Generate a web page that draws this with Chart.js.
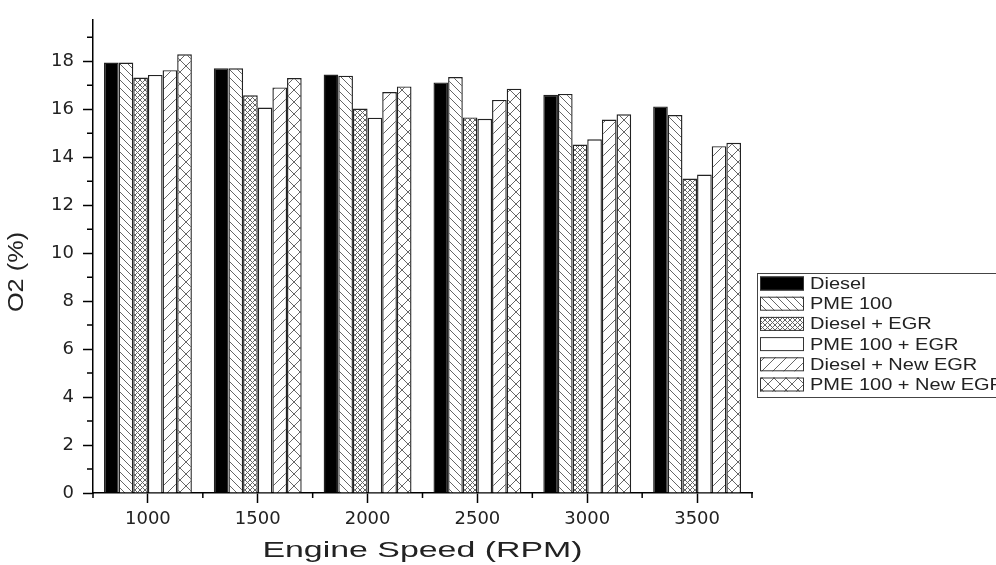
<!DOCTYPE html>
<html>
<head>
<meta charset="utf-8">
<script src="https://cdn.jsdelivr.net/npm/chart.js@4"></script>
<style>
  html, body { margin: 0; padding: 0; background: #fff; }
  #wrap { position: relative; width: 996px; height: 565px; }
</style>
</head>
<body>
<div id="wrap"><canvas id="chart"></canvas></div>
<script>
const speeds = ["1000", "1500", "2000", "2500", "3000", "3500"];
const diesel = [17.95, 17.71, 17.45, 17.12, 16.6, 16.12];
const pme100 = [17.95, 17.71, 17.4, 17.34, 16.64, 15.76];
const dieselEgr = [17.32, 16.58, 16.03, 15.66, 14.53, 13.11];
const pmeEgr = [17.43, 16.07, 15.65, 15.6, 14.75, 13.28];
const dieselNewEgr = [17.63, 16.91, 16.72, 16.39, 15.57, 14.46];
const pmeNewEgr = [18.29, 17.3, 16.95, 16.86, 15.79, 14.6];
const seriesNames = ["Diesel", "PME 100", "Diesel + EGR", "PME 100 + EGR", "Diesel + New EGR", "PME 100 + New EGR"];

// hatch tiles
function hatch(size, kind) {
  const c = document.createElement("canvas");
  c.width = c.height = size;
  const g = c.getContext("2d");
  g.fillStyle = "#fff";
  g.fillRect(0, 0, size, size);
  g.strokeStyle = "#666";
  g.lineWidth = 1;
  g.beginPath();
  for (let k = -1; k <= 1; k++) {
    if (kind === "back" || kind === "cross") {
      g.moveTo(k * size, 0);
      g.lineTo(k * size + size, size);
    }
    if (kind === "fwd" || kind === "cross") {
      g.moveTo(k * size, size);
      g.lineTo(k * size + size, 0);
    }
  }
  g.stroke();
  return g.createPattern(c, "repeat");
}

const fills = [
  "#000",
  hatch(8, "back"),
  hatch(5, "cross"),
  "#fff",
  hatch(11, "fwd"),
  hatch(12, "cross"),
];
const values = [diesel, pme100, dieselEgr, pmeEgr, dieselNewEgr, pmeNewEgr];

const datasets = values.map((v, i) => ({
  label: seriesNames[i],
  data: v,
  backgroundColor: fills[i],
  borderColor: "#222",
  borderWidth: 1.4,
  barPercentage: 1,
  categoryPercentage: 0.8,
}));

// minor ticks, axis titles, legend
const extras = {
  id: "extras",
  afterDraw(chart) {
    const ctx = chart.ctx;
    const x = chart.scales.x;
    const y = chart.scales.y;
    const area = chart.chartArea;
    ctx.save();
    ctx.strokeStyle = "#000";
    ctx.lineWidth = 1.5;
    ctx.beginPath();
    // x minor ticks at category edges
    const step = x.getPixelForValue(1) - x.getPixelForValue(0);
    for (let i = 0; i <= speeds.length; i++) {
      const px = x.getPixelForValue(0) - step / 2 + i * step;
      ctx.moveTo(px, area.bottom);
      ctx.lineTo(px, area.bottom + 5);
    }
    // y minor ticks at odd values
    for (let v = 1; v <= 19; v += 2) {
      const py = y.getPixelForValue(v);
      ctx.moveTo(area.left, py);
      ctx.lineTo(area.left - 6, py);
    }
    ctx.stroke();

    // axis titles
    ctx.fillStyle = "#222";
    ctx.textAlign = "center";
    ctx.textBaseline = "middle";
    ctx.font = "22px 'Liberation Sans', Arial, sans-serif";
    ctx.save();
    ctx.translate((area.left + area.right) / 2, 551);
    ctx.scale(1.54, 1);
    ctx.fillText("Engine Speed (RPM)", 0, 0);
    ctx.restore();
    ctx.save();
    ctx.translate(17, 272);
    ctx.rotate(-Math.PI / 2);
    ctx.scale(1.15, 1);
    ctx.fillText("O2 (%)", 0, 0);
    ctx.restore();

    // legend
    const lx = 757, ly = 273, rowH = 20.2;
    ctx.strokeStyle = "#444";
    ctx.lineWidth = 1;
    ctx.strokeRect(lx + 0.5, ly + 0.5, 300, 124);
    ctx.font = "16px 'Liberation Sans', Arial, sans-serif";
    ctx.textAlign = "left";
    chart.data.datasets.forEach((ds, i) => {
      const cy = ly + 10.5 + i * rowH;
      ctx.fillStyle = ds.backgroundColor;
      ctx.fillRect(760, cy - 7, 44, 14);
      ctx.strokeStyle = "#333";
      ctx.strokeRect(760.5, cy - 6.5, 43, 13);
      ctx.fillStyle = "#222";
      ctx.save();
      ctx.translate(810, cy + 1);
      ctx.scale(1.25, 1);
      ctx.fillText(ds.label, 0, 0);
      ctx.restore();
    });
    ctx.restore();
  },
};

new Chart(document.getElementById("chart"), {
  type: "bar",
  data: { labels: speeds, datasets },
  options: {
    responsive: true,
    maintainAspectRatio: false,
    animation: false,
    layout: { padding: { top: 15, right: 244, left: 0, bottom: 0 } },
    plugins: { legend: { display: false }, tooltip: { enabled: false } },
    scales: {
      x: {
        afterFit: (s) => { s.height = 72; },
        grid: { offset: false, drawOnChartArea: false, tickLength: 10, tickColor: "#000", tickWidth: 1.5 },
        border: { color: "#000", width: 1.5 },
        ticks: { color: "#222", font: { family: "'DejaVu Sans'", size: 18 }, padding: 6, maxRotation: 0 },
      },
      y: {
        min: 0,
        max: 19.73,
        afterFit: (s) => { s.width = 93; },
        grid: { drawOnChartArea: false, tickLength: 10, tickColor: "#000", tickWidth: 1.5 },
        border: { color: "#000", width: 1.5 },
        ticks: { stepSize: 2, includeBounds: false, color: "#222", font: { family: "'DejaVu Sans'", size: 18 }, padding: 9 },
      },
    },
  },
  plugins: [extras],
});
</script>
</body>
</html>
